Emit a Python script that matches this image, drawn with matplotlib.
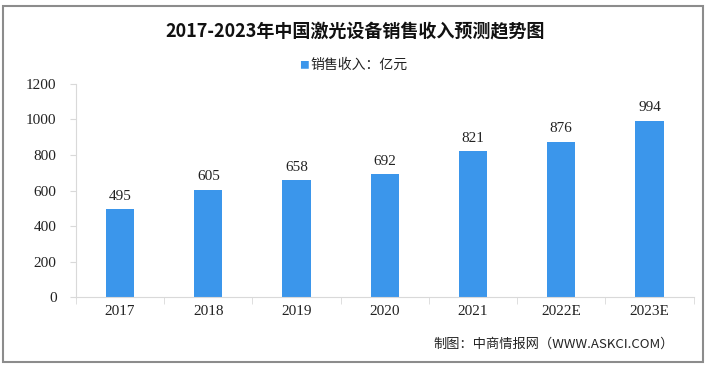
import matplotlib.pyplot as plt
from matplotlib.patches import Rectangle

years = ['2017', '2018', '2019', '2020', '2021', '2022E', '2023E']
revenue = [495, 605, 658, 692, 821, 876, 994]
yticks = [0, 200, 400, 600, 800, 1000, 1200]

plt.rcParams['font.family'] = ['Noto Sans CJK SC', 'DejaVu Sans']
num_font = ['Liberation Serif', 'Noto Sans CJK SC']
bar_color = '#3b96eb'

fig = plt.figure(figsize=(7.1, 3.65), dpi=100)
ax = fig.add_axes([0.107, 0.186, 0.87, 0.584])

x = range(len(years))
ax.bar(x, revenue, width=0.32, color=bar_color, zorder=2)
for i, v in enumerate(revenue):
  ax.text(i, v + 35, str(v), ha='center', va='bottom', fontsize=11, family=num_font, color='#222222')

ax.set_xlim(-0.5, len(years) - 0.5)
ax.set_ylim(0, 1200)
ax.set_yticks(yticks)
ax.set_yticklabels([str(t) for t in yticks], family=num_font, fontsize=11, color='#222222')
ax.set_xticks(list(x))
ax.set_xticklabels(years, family=num_font, fontsize=11, color='#222222')
ax.tick_params(axis='x', length=0, pad=6)
ax.tick_params(axis='y', length=4, color='#d9d9d9', pad=10)

# category separators on the x axis
ax.set_xticks([i - 0.5 for i in range(len(years) + 1)], minor=True)
ax.tick_params(axis='x', which='minor', length=5, color='#d9d9d9', direction='out')

for s in ['top', 'right']:
  ax.spines[s].set_visible(False)
ax.spines['left'].set_color('#d9d9d9')
ax.spines['bottom'].set_color('#d9d9d9')

fig.text(0.5, 0.915, '2017-2023年中国激光设备销售收入预测趋势图', ha='center', va='center',
         fontsize=13, fontweight='bold', color='#111111')
fig.text(0.428, 0.822, '■', ha='center', va='center', fontsize=7, color=bar_color)
fig.text(0.437, 0.822, '销售收入：亿元', ha='left', va='center', fontsize=10, color='#222222')
fig.text(0.61, 0.058, '制图：中商情报网（WWW.ASKCI.COM）', ha='left', va='center',
         fontsize=9.5, color='#222222')

# outer frame
fig.patches.append(Rectangle((3 / 710, 3 / 365), 700 / 710, 356 / 365, transform=fig.transFigure,
                             fill=False, edgecolor='#8c8c8c', linewidth=1.5))

fig.savefig('out.png', dpi=100)
